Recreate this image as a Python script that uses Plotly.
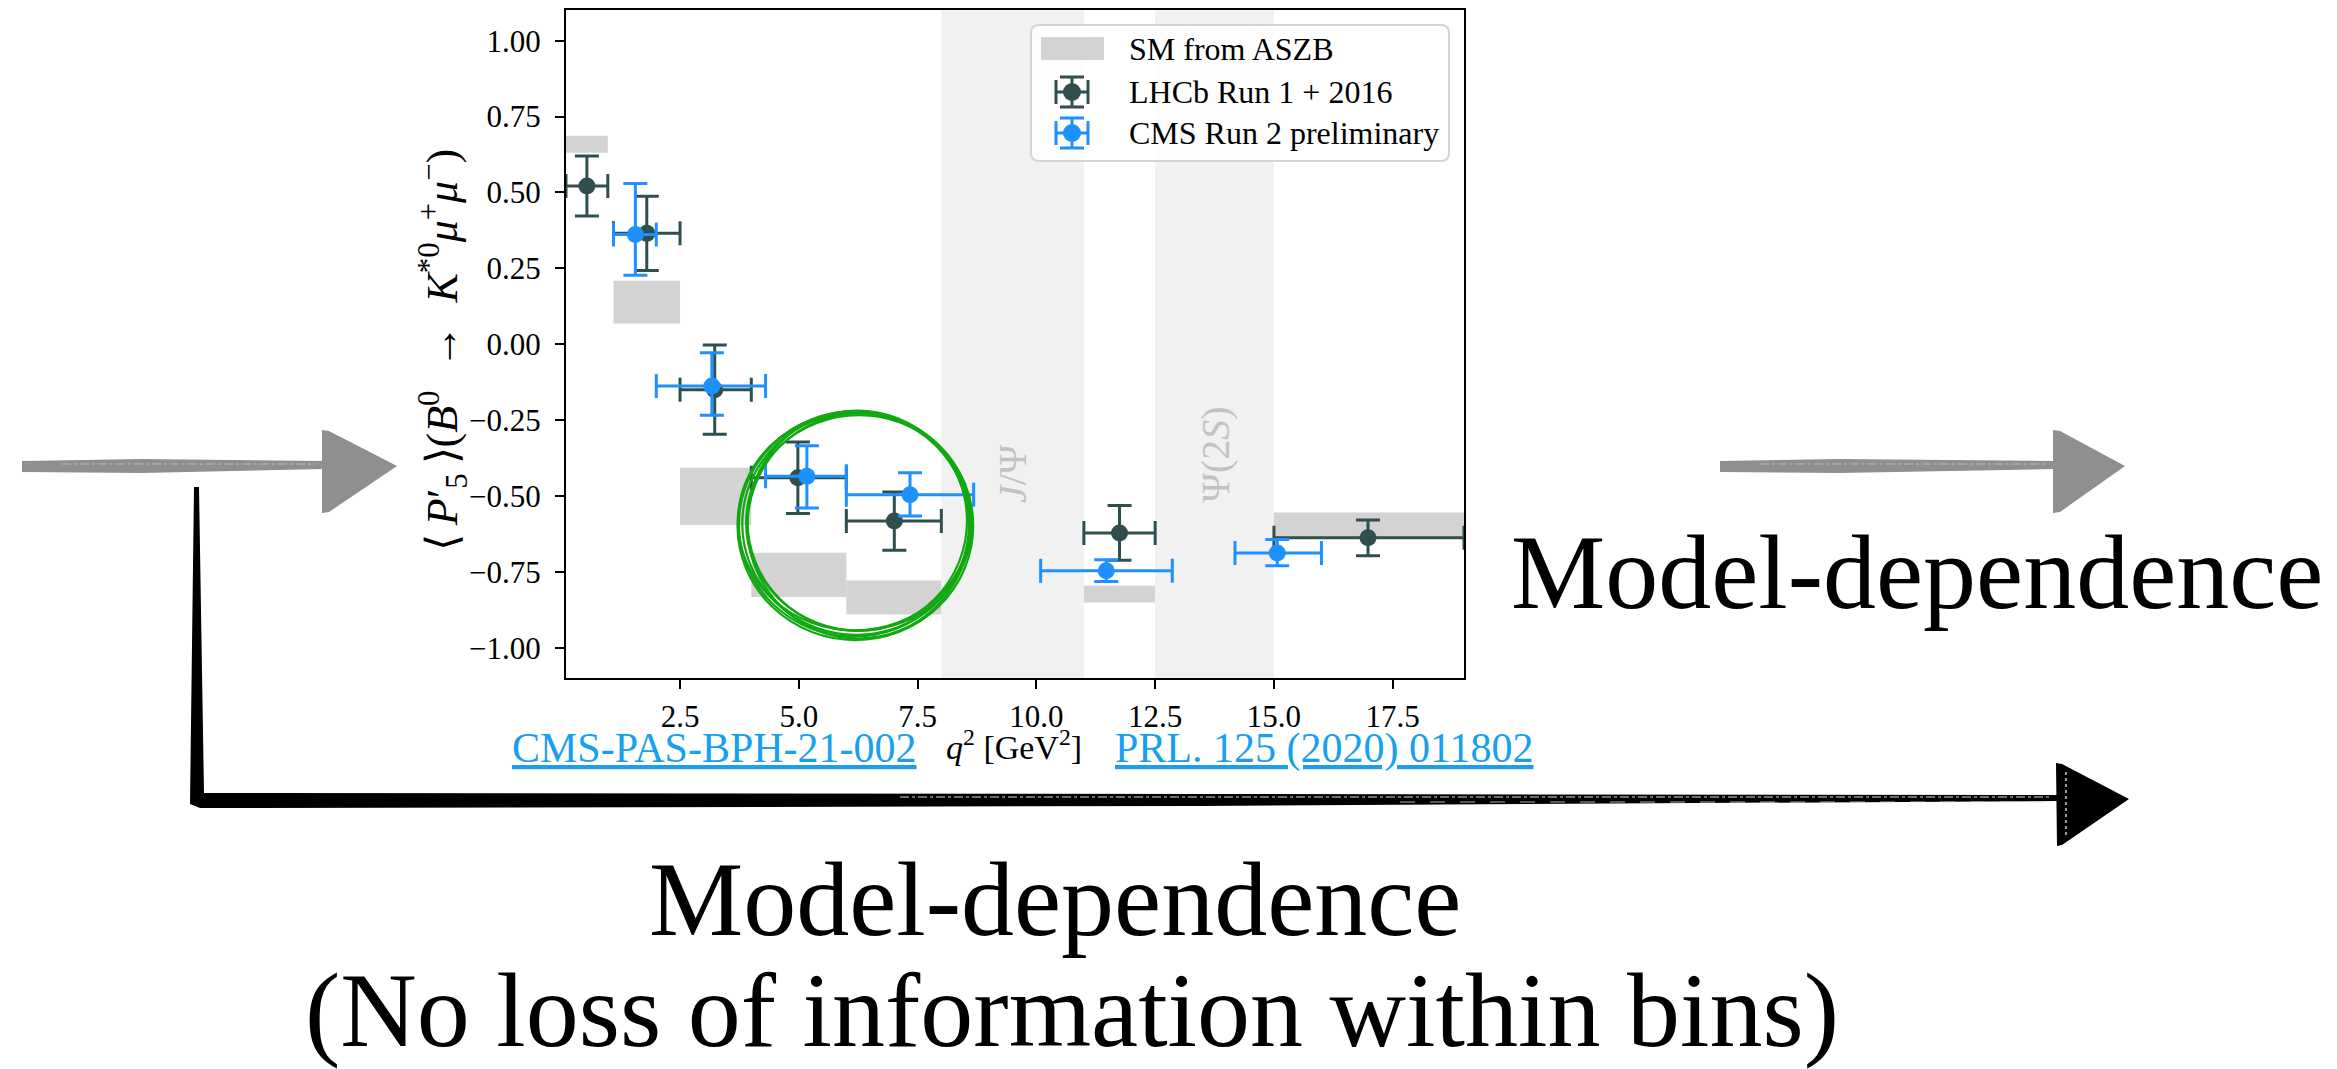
import plotly.graph_objects as go

W, H = 2337, 1069

# LHCb Run 1 + 2016 (PRL 125 (2020) 011802)
lhcb_lo = [0.10, 1.10, 2.50, 4.00, 6.00, 11.00, 15.00]
lhcb_hi = [0.98, 2.50, 4.00, 6.00, 8.00, 12.50, 19.00]
lhcb_x = [0.54, 1.80, 3.23, 4.98, 7.01, 11.75, 16.98]
lhcb_p5 = [0.521, 0.365, -0.150, -0.440, -0.583, -0.622, -0.638]
lhcb_err = [0.099, 0.122, 0.147, 0.118, 0.096, 0.090, 0.059]

# CMS Run 2 preliminary (CMS-PAS-BPH-21-002)
cms_lo = [1.10, 2.00, 4.30, 6.00, 10.09, 14.18]
cms_hi = [2.00, 4.30, 6.00, 8.68, 12.86, 16.00]
cms_x = [1.56, 3.17, 5.17, 7.34, 11.47, 15.07]
cms_p5 = [0.361, -0.138, -0.435, -0.496, -0.747, -0.688]
cms_err_up = [0.168, 0.110, 0.100, 0.072, 0.037, 0.044]
cms_err_dn = [0.134, 0.096, 0.105, 0.070, 0.035, 0.042]

# SM predictions (ASZB), one band per bin
sm_lo = [0.10, 1.10, 2.50, 4.00, 6.00, 11.00, 15.00]
sm_hi = [0.98, 2.50, 4.00, 6.00, 8.00, 12.50, 19.00]
sm_min = [0.631, 0.068, -0.596, -0.833, -0.891, -0.851, -0.641]
sm_max = [0.687, 0.209, -0.407, -0.687, -0.779, -0.796, -0.555]

# charmonium veto regions
veto_lo = [8.0, 12.5]
veto_hi = [11.0, 15.0]
veto_labels = ["<i>J</i>/Ψ", "Ψ(2<i>S</i>)"]

x_ticks = [2.5, 5.0, 7.5, 10.0, 12.5, 15.0, 17.5]
y_ticks = [-1.0, -0.75, -0.5, -0.25, 0.0, 0.25, 0.5, 0.75, 1.0]

DARK = "#2f4f4f"
BLUE = "#1e90ff"
SMGRAY = "#d3d3d3"
GREEN = "rgb(18,168,18)"
LINK = "#18a0ef"
SERIF = "Liberation Serif"

# plot area in pixels
PL, PR, PT, PB = 566, 1464, 10.3, 678


def px(x):
    return x / W


def py(y):
    return 1 - y / H


def poly(points):
    return "M " + " L ".join(f"{px(a):.5f},{py(b):.5f}" for a, b in points) + " Z"


fig = go.Figure()

fig.add_trace(go.Bar(
    x=[(a + b) / 2 for a, b in zip(sm_lo, sm_hi)],
    width=[b - a for a, b in zip(sm_lo, sm_hi)],
    base=sm_min,
    y=[b - a for a, b in zip(sm_min, sm_max)],
    marker=dict(color=SMGRAY, line=dict(width=0)),
    name="SM from ASZB", showlegend=False, hoverinfo="skip",
))

fig.add_trace(go.Scatter(
    x=lhcb_x, y=lhcb_p5, mode="markers",
    marker=dict(color=DARK, size=17),
    error_x=dict(type="data", symmetric=False,
                 array=[h - c for h, c in zip(lhcb_hi, lhcb_x)],
                 arrayminus=[c - l for l, c in zip(lhcb_lo, lhcb_x)],
                 color=DARK, thickness=3, width=12),
    error_y=dict(type="data", array=lhcb_err, color=DARK, thickness=3, width=12),
    name="LHCb Run 1 + 2016", showlegend=False,
))

fig.add_trace(go.Scatter(
    x=cms_x, y=cms_p5, mode="markers",
    marker=dict(color=BLUE, size=17),
    error_x=dict(type="data", symmetric=False,
                 array=[h - c for h, c in zip(cms_hi, cms_x)],
                 arrayminus=[c - l for l, c in zip(cms_lo, cms_x)],
                 color=BLUE, thickness=3, width=12),
    error_y=dict(type="data", symmetric=False, array=cms_err_up,
                 arrayminus=cms_err_dn, color=BLUE, thickness=3, width=12),
    name="CMS Run 2 preliminary", showlegend=False,
))

shapes = []
annotations = []

# veto bands
for lo, hi in zip(veto_lo, veto_hi):
    shapes.append(dict(type="rect", xref="x", yref="y domain", x0=lo, x1=hi, y0=0, y1=1,
                       fillcolor="#f1f1f1", line=dict(width=0), layer="below"))
for lo, hi, lab in zip(veto_lo, veto_hi, veto_labels):
    annotations.append(dict(x=(lo + hi) / 2, y=-0.53, xref="x", yref="y", text=lab,
                            showarrow=False, textangle=-90, xanchor="center", yanchor="bottom",
                            font=dict(family=SERIF, size=40, color="#c2c2c2")))

# hand-drawn ring around the 4-8 GeV^2 region (several overlapping pen strokes)
ring_c = (6.21, -0.592)
ring_r = (2.40, 0.366)
ring_strokes = [(0.00, 0.000, 0.00, 0.000), (0.05, -0.007, -0.06, 0.005),
                (-0.04, 0.008, 0.05, -0.007), (0.02, 0.010, -0.09, -0.003),
                (-0.02, -0.006, 0.08, 0.011), (0.06, 0.003, -0.02, -0.011),
                (-0.05, -0.002, 0.02, 0.004)]
for dx, dy, drx, dry in ring_strokes:
    cx, cy = ring_c[0] + dx, ring_c[1] + dy
    rx, ry = ring_r[0] + drx, ring_r[1] + dry
    shapes.append(dict(type="circle", xref="x", yref="y", x0=cx - rx, x1=cx + rx,
                       y0=cy - ry, y1=cy + ry, line=dict(color=GREEN, width=2.2),
                       layer="above"))

# legend box
LB = (1031, 25, 1449, 161)
r = 8
x0, y0, x1, y1 = LB
legend_path = (f"M {px(x0 + r)},{py(y0)} L {px(x1 - r)},{py(y0)} "
               f"Q {px(x1)},{py(y0)} {px(x1)},{py(y0 + r)} L {px(x1)},{py(y1 - r)} "
               f"Q {px(x1)},{py(y1)} {px(x1 - r)},{py(y1)} L {px(x0 + r)},{py(y1)} "
               f"Q {px(x0)},{py(y1)} {px(x0)},{py(y1 - r)} L {px(x0)},{py(y0 + r)} "
               f"Q {px(x0)},{py(y0)} {px(x0 + r)},{py(y0)} Z")
shapes.append(dict(type="path", xref="paper", yref="paper", path=legend_path,
                   fillcolor="rgba(255,255,255,0.85)", line=dict(color="#d4d4d4", width=2),
                   layer="above"))
shapes.append(dict(type="rect", xref="paper", yref="paper", x0=px(1041), x1=px(1104),
                   y0=py(60), y1=py(37), fillcolor=SMGRAY, line=dict(width=0), layer="above"))
legend_rows = [("SM from ASZB", 49, None), ("LHCb Run 1 + 2016", 92, DARK),
               ("CMS Run 2 preliminary", 133, BLUE)]
for label, ry_, col in legend_rows:
    annotations.append(dict(x=px(1127), y=py(ry_), xref="paper", yref="paper", text=label,
                            showarrow=False, xanchor="left", yanchor="middle",
                            font=dict(family=SERIF, size=32, color="black")))
    if col is None:
        continue
    cx = 1072
    seg = [((cx - 16, ry_), (cx + 16, ry_)), ((cx, ry_ - 15), (cx, ry_ + 15)),
           ((cx - 16, ry_ - 12), (cx - 16, ry_ + 12)), ((cx + 16, ry_ - 12), (cx + 16, ry_ + 12)),
           ((cx - 12, ry_ - 15), (cx + 12, ry_ - 15)), ((cx - 12, ry_ + 15), (cx + 12, ry_ + 15))]
    for (a, b), (c, d) in seg:
        shapes.append(dict(type="line", xref="paper", yref="paper", x0=px(a), y0=py(b),
                           x1=px(c), y1=py(d), line=dict(color=col, width=3), layer="above"))
    shapes.append(dict(type="circle", xref="paper", yref="paper", x0=px(cx - 9), x1=px(cx + 9),
                       y0=py(ry_ + 9), y1=py(ry_ - 9), fillcolor=col, line=dict(width=0),
                       layer="above"))

# brush-style arrows
GRAYA = "#8f8f8f"


def streak(xa, xb, y, color, width, dash):
    shapes.append(dict(type="line", xref="paper", yref="paper", layer="above",
                       x0=px(xa), x1=px(xb), y0=py(y), y1=py(y),
                       line=dict(color=color, width=width, dash=dash)))


def gray_arrow(xs, xe, tip, yc):
    shapes.append(dict(type="path", xref="paper", yref="paper", layer="above",
                       path=poly([(xs, yc - 5), (xs + 120, yc - 7), (xe, yc - 5), (xe, yc + 3),
                                  (xs + 120, yc + 7), (xs, yc + 6)]),
                       fillcolor=GRAYA, line=dict(width=0)))
    shapes.append(dict(type="path", xref="paper", yref="paper", layer="above",
                       path=poly([(xe - 3, yc - 36), (xe + 4, yc - 35), (tip, yc),
                                  (xe + 4, yc + 46), (xe - 3, yc + 47)]),
                       fillcolor=GRAYA, line=dict(width=0)))
    streak(xs + 40, xe - 10, yc - 2, "#b8b8b8", 1.2, "dashdot")
    streak(xe + 6, xe + 6, yc, "#b8b8b8", 1, "solid")


gray_arrow(22, 325, 397, 466)
gray_arrow(1720, 2056, 2125, 466)

shapes.append(dict(type="path", xref="paper", yref="paper", layer="above",
                   path=poly([(194, 487), (199, 487), (204, 793), (1200, 794), (2058, 795),
                              (2058, 801), (1200, 806), (200, 808), (190, 804)]),
                   fillcolor="black", line=dict(width=0)))
shapes.append(dict(type="path", xref="paper", yref="paper", layer="above",
                   path=poly([(2056, 763), (2062, 764), (2129, 799), (2062, 845), (2057, 846)]),
                   fillcolor="black", line=dict(width=0)))
streak(900, 2050, 797, "#dddddd", 1, "dashdot")
streak(1400, 2050, 802, "#dddddd", 0.8, "longdash")
shapes.append(dict(type="line", xref="paper", yref="paper", layer="above",
                   x0=px(2066), x1=px(2066), y0=py(772), y1=py(835),
                   line=dict(color="white", width=1.2, dash="dot")))

# axis titles and surrounding text
annotations.append(dict(x=px(443), y=py(350), xref="paper", yref="paper", textangle=-90,
                        showarrow=False, xanchor="center", yanchor="middle",
                        text="⟨\u2009<i>P</i>′<sub>5</sub>\u2009⟩(<i>B</i><sup>0</sup>  →  "
                             "<i>K</i><sup>*0</sup><i>μ</i><sup>+</sup><i>μ</i><sup>−</sup>)",
                        font=dict(family=SERIF, size=44, color="black")))
annotations.append(dict(x=px(1014), y=py(745), xref="paper", yref="paper", showarrow=False,
                        xanchor="center", yanchor="middle",
                        text="<i>q</i><sup>2</sup> [GeV<sup>2</sup>]",
                        font=dict(family=SERIF, size=34, color="black")))
annotations.append(dict(x=px(510), y=py(748), xref="paper", yref="paper", showarrow=False,
                        xanchor="left", yanchor="middle", text="<u>CMS-PAS-BPH-21-002</u>",
                        font=dict(family=SERIF, size=42, color=LINK)))
annotations.append(dict(x=px(1113), y=py(748), xref="paper", yref="paper", showarrow=False,
                        xanchor="left", yanchor="middle", text="<u>PRL. 125 (2020) 011802</u>",
                        font=dict(family=SERIF, size=42, color=LINK)))
annotations.append(dict(x=px(1917), y=py(572), xref="paper", yref="paper", showarrow=False,
                        xanchor="center", yanchor="middle", text="Model-dependence",
                        font=dict(family=SERIF, size=106, color="black")))
annotations.append(dict(x=px(1055), y=py(899), xref="paper", yref="paper", showarrow=False,
                        xanchor="center", yanchor="middle", text="Model-dependence",
                        font=dict(family=SERIF, size=106, color="black")))
annotations.append(dict(x=px(1072), y=py(1010), xref="paper", yref="paper", showarrow=False,
                        xanchor="center", yanchor="middle",
                        text="(No loss of information within bins)",
                        font=dict(family=SERIF, size=106, color="black")))

axis_common = dict(showline=True, linecolor="black", linewidth=2, mirror=True,
                   showgrid=False, zeroline=False, ticks="outside", ticklen=9, tickwidth=2,
                   tickcolor="black", tickfont=dict(family=SERIF, size=31, color="black"))

fig.update_layout(
    width=W, height=H, autosize=False,
    margin=dict(l=0, r=0, t=0, b=0),
    paper_bgcolor="white", plot_bgcolor="white",
    showlegend=False,
    xaxis=dict(domain=[px(PL), px(PR)], range=[0.1, 19.0], tickvals=x_ticks,
               ticktext=[f"{v:.1f}" for v in x_ticks], ticklabelstandoff=1, **axis_common),
    yaxis=dict(domain=[py(PB), py(PT)], range=[-1.1, 1.1], tickvals=y_ticks,
               ticktext=[f"{v:.2f}".replace("-", "−") for v in y_ticks],
               ticklabelstandoff=8, **axis_common),
    shapes=shapes,
    annotations=annotations,
)

fig.write_html("out.html")
